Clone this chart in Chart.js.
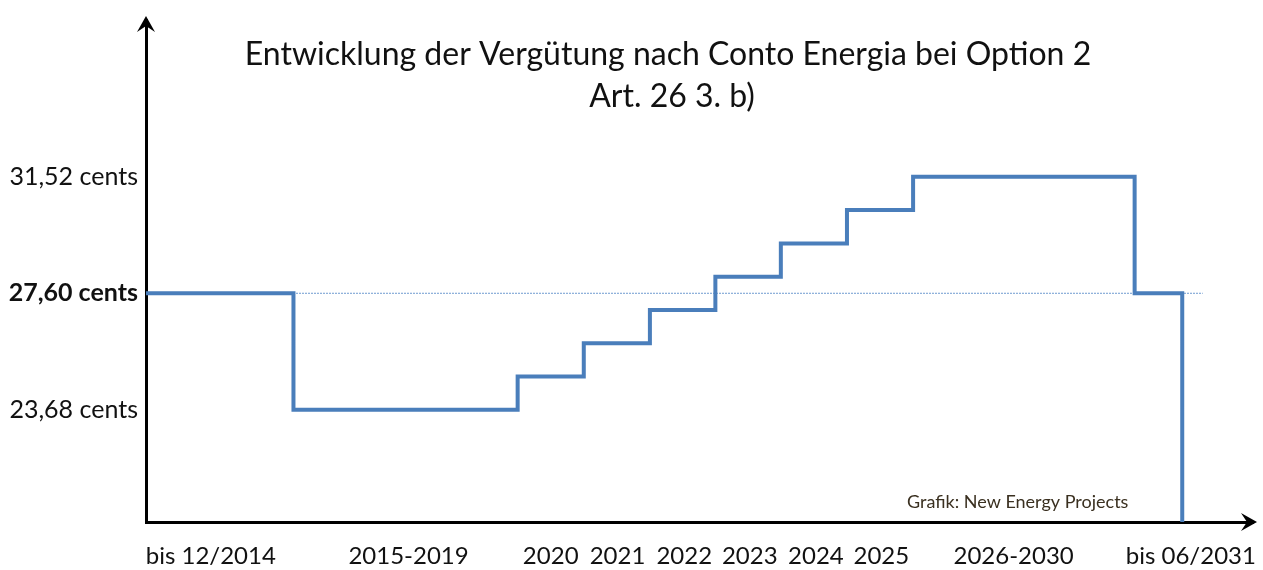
<!DOCTYPE html>
<html>
<head>
<meta charset="utf-8">
<script src="https://cdn.jsdelivr.net/npm/chart.js@4.4.1/dist/chart.umd.min.js"></script>
<style>
    html, body { margin: 0; padding: 0; background: #fff; }
    #wrap { width: 1263px; height: 570px; }
</style>
</head>
<body>
<div id="wrap"><canvas id="myChart" width="1263" height="570"></canvas></div>
<script>
// ---------------------------------------- data ----------------------------------------
// periods of the feed-in tariff and the tariff in cents for each
const periods = ["bis 12/2014", "2015-2019", "2020", "2021", "2022", "2023", "2024", "2025", "2026-2030", "bis 06/2031"];
const tariff = [27.60, 23.68, 24.80, 25.92, 27.04, 28.16, 29.28, 30.40, 31.52, 27.60];
// where each period starts on the x scale (last one = end of the last period)
const periodStart = [0, 2.23, 5.62, 6.62, 7.62, 8.61, 9.6, 10.6, 11.6, 14.95, 15.67];
// where the period labels sit under the axis
const labelPos = [0.98, 3.97, 6.12, 7.13, 8.14, 9.13, 10.13, 11.12, 13.12, 15.8];
const yTicks = [23.68, 27.60, 31.52];
const baseline = 27.60;

const fontFam = "Lato, 'Open Sans', sans-serif";

const yMin = 19.9;
const yMax = 36.8;
const xMax = 16.74;

// ---------------------------------------- build step points ----------------------------------------
const buildPoints = () => {
    const pts = [];
    tariff.forEach((v, i) => pts.push({ x: periodStart[i], y: v }));
    const last = periodStart[periodStart.length - 1];
    pts.push({ x: last, y: tariff[tariff.length - 1] });
    pts.push({ x: last, y: yMin });
    return pts;
}

// ---------------------------------------- arrows, title, credit ----------------------------------------
const extras = {
    id: 'extras',
    afterDraw(chart) {
        const c = chart.ctx;
        const a = chart.chartArea;
        c.save();
        c.fillStyle = '#000';
        // y arrow
        c.beginPath();
        c.moveTo(a.left, a.top - 4);
        c.lineTo(a.left - 9, a.top + 12);
        c.lineTo(a.left, a.top + 6);
        c.lineTo(a.left + 9, a.top + 12);
        c.closePath();
        c.fill();
        // x arrow
        c.beginPath();
        c.moveTo(a.right + 4, a.bottom);
        c.lineTo(a.right - 12, a.bottom - 9);
        c.lineTo(a.right - 6, a.bottom);
        c.lineTo(a.right - 12, a.bottom + 9);
        c.closePath();
        c.fill();

        c.fillStyle = '#111';
        c.textAlign = 'center';
        c.textBaseline = 'middle';
        c.font = "32px " + fontFam;
        c.fillText("Entwicklung der Vergütung nach Conto Energia bei Option 2", 668, 55);
        c.fillText("Art. 26 3. b)", 672, 97);

        c.fillStyle = '#3a3020';
        c.textAlign = 'left';
        c.font = "18px " + fontFam;
        c.fillText("Grafik: New Energy Projects", 907, 502);
        c.restore();
    }
}

// keep tick labels from shrinking the plot area
const noPad = (s) => {
    s.paddingLeft = 0;
    s.paddingRight = 0;
    s.paddingTop = 0;
    s.paddingBottom = 0;
}

// ---------------------------------------- chart ----------------------------------------
const ctx = document.getElementById('myChart');
new Chart(ctx, {
    type: 'line',
    data: {
        datasets: [{
            data: buildPoints(),
            stepped: 'before',
            borderColor: '#4a7ebb',
            borderWidth: 4,
            pointRadius: 0,
            order: 1
        }, {
            data: [{ x: 0, y: baseline }, { x: 15.98, y: baseline }],
            borderColor: '#6f9bd1',
            borderWidth: 1,
            borderDash: [2, 1],
            pointRadius: 0,
            order: 2
        }]
    },
    plugins: [extras],
    options: {
        responsive: false,
        animation: false,
        layout: { padding: { top: 20, right: 10, left: 0, bottom: 0 } },
        plugins: {
            legend: { display: false },
            tooltip: { enabled: false }
        },
        scales: {
            x: {
                type: 'linear',
                min: 0,
                max: xMax,
                afterFit: (s) => { s.height = 48; noPad(s); },
                afterBuildTicks: (s) => { s.ticks = labelPos.map(v => ({ value: v })); },
                grid: { display: false, drawTicks: false },
                border: { display: true, color: '#000', width: 3 },
                ticks: {
                    autoSkip: false,
                    maxRotation: 0,
                    padding: 20,
                    color: '#111',
                    font: { family: fontFam, size: 24 },
                    callback: (v, i) => periods[i]
                }
            },
            y: {
                min: yMin,
                max: yMax,
                afterFit: (s) => { s.width = 146; noPad(s); },
                afterBuildTicks: (s) => { s.ticks = yTicks.map(v => ({ value: v })); },
                grid: { display: false, drawTicks: false },
                border: { display: true, color: '#000', width: 3 },
                ticks: {
                    padding: 8,
                    color: '#111',
                    font: (c) => ({ family: fontFam, size: 25, weight: c.tick && c.tick.value === baseline ? 'bold' : 'normal' }),
                    callback: (v) => v.toFixed(2).replace('.', ',') + ' cents'
                }
            }
        }
    }
});
</script>
</body>
</html>
